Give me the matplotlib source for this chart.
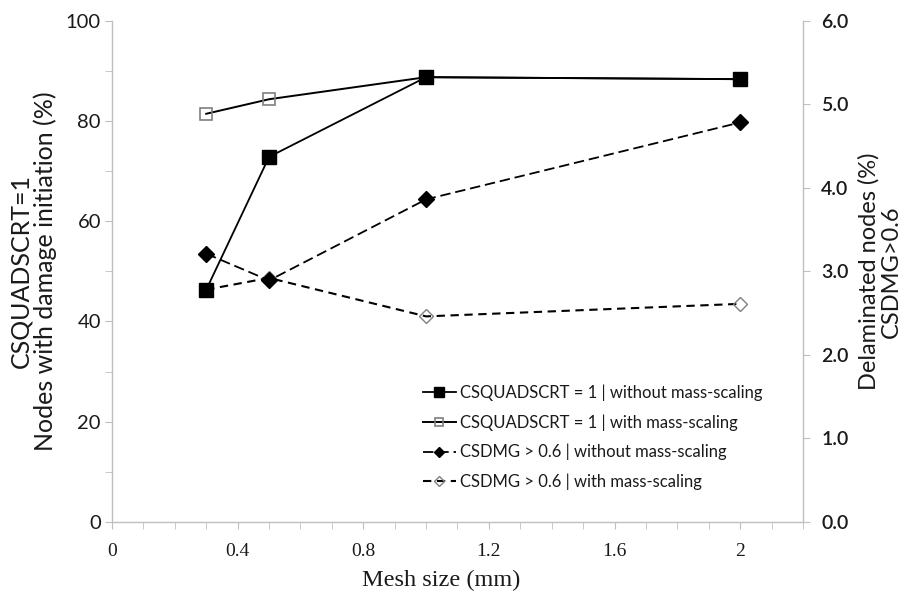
import matplotlib
matplotlib.use("Agg")
import matplotlib.pyplot as plt
from matplotlib.ticker import MultipleLocator, FormatStrFormatter, FuncFormatter

plt.rcParams['lines.scale_dashes'] = False

# Data
mesh_size = [0.3, 0.5, 1.0, 2.0]
quad_without = [46.3, 72.8, 88.7, 88.3]
quad_with = [81.4, 84.3, 88.7, 88.3]
dmg_without = [3.21, 2.89, 3.86, 4.78]
dmg_with = [2.78, 2.92, 2.46, 2.61]

labels = [
    "CSQUADSCRT = 1 | without mass-scaling",
    "CSQUADSCRT = 1 | with mass-scaling",
    "CSDMG > 0.6 | without mass-scaling",
    "CSDMG > 0.6 | with mass-scaling",
]

sans = ["Lato", "DejaVu Sans"]
serif = ["Liberation Serif", "DejaVu Serif"]
txt = "#1a1a1a"
spine_c = "#bfbfbf"

fig = plt.figure(figsize=(9.15, 5.94), dpi=100)
ax = fig.add_axes([112/915, 72/594, 691/915, 501.5/594])
ax2 = ax.twinx()
ax.set_zorder(2)
ax2.set_zorder(1)
ax.patch.set_visible(False)

# Right axis series (drawn below)
l4, = ax2.plot(mesh_size, dmg_with, color="black", lw=1.5, marker="D", ms=7.5,
               mfc="none", mec="#7f7f7f", mew=1.0, dashes=(6, 4), zorder=2)
l3, = ax2.plot(mesh_size, dmg_without, color="black", lw=1.3, marker="D", ms=8,
               mfc="black", mec="black", dashes=(7.5, 3.5), zorder=3)

# Left axis series (drawn on top)
l2, = ax.plot(mesh_size, quad_with, color="black", lw=1.4, marker="s", ms=8.5,
              mfc="none", mec="#7f7f7f", mew=1.2, zorder=2)
l1, = ax.plot(mesh_size, quad_without, color="black", lw=1.3, marker="s", ms=9.5,
              mfc="black", mec="black", zorder=3)

ax.set_xlim(0, 2.2)
ax.set_ylim(0, 100)
ax2.set_ylim(0, 6.0)

ax.xaxis.set_major_locator(MultipleLocator(0.4))
ax.xaxis.set_minor_locator(MultipleLocator(0.1))
ax.xaxis.set_major_formatter(FuncFormatter(lambda v, p: "%g" % round(v, 2)))
ax.yaxis.set_major_locator(MultipleLocator(20))
ax.yaxis.set_minor_locator(MultipleLocator(10))
ax2.yaxis.set_major_locator(MultipleLocator(1.0))
ax2.yaxis.set_major_formatter(FormatStrFormatter("%.1f"))

for a in (ax, ax2):
    for s in a.spines.values():
        s.set_color(spine_c)
        s.set_linewidth(1.0)
    a.spines["top"].set_visible(False)

ax.spines["right"].set_visible(False)
ax2.spines["left"].set_visible(False)
ax2.spines["bottom"].set_visible(False)

ax.tick_params(axis="both", which="both", color=spine_c, direction="out")
ax.tick_params(axis="x", which="major", length=5, pad=10, labelsize=14, labelcolor=txt)
ax.tick_params(axis="x", which="minor", length=5)
ax.tick_params(axis="y", which="major", length=5, pad=3, labelsize=14.5, labelcolor=txt)
ax.tick_params(axis="y", which="minor", length=5)
ax2.tick_params(axis="y", which="major", length=5, pad=8, labelsize=14,
                labelcolor=txt, color=spine_c, direction="out")

for t in ax.get_xticklabels():
    t.set_fontfamily(serif)
for t in ax.get_yticklabels():
    t.set_fontfamily(sans)
for t in ax2.get_yticklabels():
    t.set_fontfamily(sans)
    t.set_fontweight("semibold")

ax.set_xlabel("Mesh size (mm)", fontsize=17.5, family=serif, color=txt, labelpad=10)
ax.xaxis.set_label_coords(0.476, -0.095)
ax.set_ylabel("CSQUADSCRT=1\nNodes with damage initiation (%)", fontsize=18,
              family=sans, color=txt, labelpad=6, linespacing=1.05)
ax2.set_ylabel("Delaminated nodes (%)\nCSDMG>0.6", fontsize=17, family=sans,
               color=txt, labelpad=7, linespacing=1.05)

leg = ax.legend([l1, l2, l3, l4], labels, loc="lower left",
                bbox_to_anchor=(0.44, 0.05), frameon=False,
                prop={"family": sans, "size": 12}, handlelength=2.0,
                handletextpad=0.25, labelspacing=0.8, borderaxespad=0,
                markerscale=0.7)
for t in leg.get_texts():
    t.set_color(txt)

fig.savefig("out.png", dpi=100)
